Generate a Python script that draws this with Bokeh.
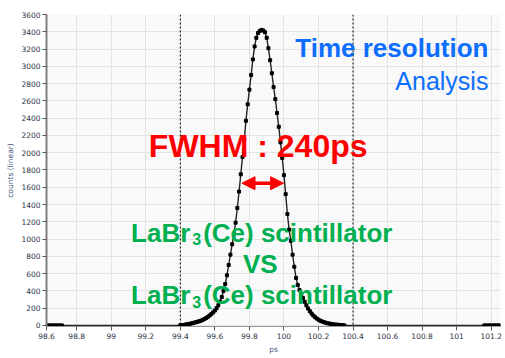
import numpy as np
from bokeh.plotting import figure
from bokeh.models import Span, Label, Arrow, NormalHead, FixedTicker, ColumnDataSource, Range1d
from bokeh.embed import file_html
from bokeh.resources import INLINE

# ---------------- data ----------------
BIN = 0.01
peak_start = 99.40
peak_counts = [
    2, 4, 6, 10, 14, 18, 22, 27, 32, 38,
    43, 49, 56, 65, 75, 87, 101, 116, 133, 152,
    173, 200, 234, 276, 330, 400, 480, 580, 700, 820,
    940, 1060, 1190, 1360, 1550, 1750, 1950, 2150, 2370, 2560,
    2730, 2900, 3080, 3230, 3330, 3385, 3410, 3422, 3415, 3395,
    3330, 3210, 3070, 2920, 2760, 2620, 2460, 2300, 2120, 1940,
    1740, 1520, 1290, 1110, 980, 820, 680, 550, 470, 410,
    360, 318, 274, 233, 196, 165, 138, 115, 96, 80,
    67, 56, 47, 39, 33, 27, 23, 19, 15, 12,
    10, 8, 6, 4, 2, 1,
]
left_base_start, left_base_n = 98.625, 10     # zero-count bins at the left edge
right_base_start, right_base_n = 101.160, 10  # zero-count bins at the right edge

x_ticks = [98.6, 98.8, 99.0, 99.2, 99.4, 99.6, 99.8, 100.0, 100.2, 100.4, 100.6, 100.8, 101.0, 101.2]
x_tick_labels = ["98.6", "98.8", "99", "99.2", "99.4", "99.6", "99.8", "100", "100.2", "100.4",
                 "100.6", "100.8", "101", "101.2"]
y_ticks = list(range(0, 3601, 200))
marker_lines = [99.4, 100.4]
fwhm_left, fwhm_right, half_max = 99.757, 99.998, 1647

# ---------------- build series ----------------
xl = np.round(left_base_start + BIN * np.arange(left_base_n), 3)
xp = np.round(peak_start + BIN * np.arange(len(peak_counts)), 3)
xr = np.round(right_base_start + BIN * np.arange(right_base_n), 3)
xs = np.concatenate([xl, xp, xr])
ys = np.concatenate([np.zeros(left_base_n), np.array(peak_counts, float), np.zeros(right_base_n)])
src = ColumnDataSource(dict(x=xs, y=ys))

X0, X1 = 98.625, 101.254
p = figure(width=503, height=356, x_range=Range1d(X0, X1), y_range=Range1d(-12, 3600),
           output_backend="svg", toolbar_location=None,
           min_border_left=46, min_border_right=3, min_border_top=14, min_border_bottom=25)
p.outline_line_color = None
p.background_fill_color = "#f9f9f9"
p.border_fill_color = "white"

tick_pos = [X0] + x_ticks[1:]
p.xaxis.ticker = FixedTicker(ticks=tick_pos)
p.xaxis.major_label_overrides = {t: lab for t, lab in zip(tick_pos, x_tick_labels)}
p.yaxis.ticker = FixedTicker(ticks=y_ticks)
p.xgrid.ticker = FixedTicker(ticks=x_ticks[1:])
p.ygrid.ticker = FixedTicker(ticks=y_ticks)
p.grid.grid_line_color = "#e3e3e3"
p.grid.grid_line_width = 1

for ax in (p.xaxis, p.yaxis):
    ax.major_label_text_font = "DejaVu Sans"
    ax.major_label_text_font_size = "7.5px"
    ax.major_label_text_color = "#2b3245"
    ax.axis_label_text_font = "DejaVu Sans"
    ax.axis_label_text_font_size = "7.5px"
    ax.axis_label_text_font_style = "normal"
    ax.axis_label_text_color = "#3d5078"
    ax.major_tick_in = 0
    ax.major_tick_out = 4
    ax.minor_tick_line_color = None
    ax.major_tick_line_color = "#555555"
    ax.major_label_standoff = 2
    ax.axis_label_standoff = 3
p.yaxis.axis_line_color = "#808080"
p.yaxis.axis_line_width = 2
p.xaxis.axis_line_color = "#999999"
p.xaxis.axis_label = "ps"
p.yaxis.axis_label = "counts (linear)"

for loc in marker_lines:
    p.add_layout(Span(location=loc, dimension="height", line_color="black",
                      line_dash="2 2", line_width=1))

p.line("x", "y", source=src, line_color="#222222", line_width=1.4)
p.scatter("x", "y", source=src, marker="square", size=3, color="black")

arrow_red = "#ff0000"
p.add_layout(Arrow(start=NormalHead(size=13, fill_color=arrow_red, line_color=arrow_red),
                   end=NormalHead(size=13, fill_color=arrow_red, line_color=arrow_red),
                   x_start=fwhm_left, y_start=half_max, x_end=fwhm_right, y_end=half_max,
                   line_color=arrow_red, line_width=3.5))

blue = "#0d6efd"
green = "#00b050"
FONT = "Liberation Sans"

def lab(x, y, text, size, color, bold=True, align="left"):
    p.add_layout(Label(x=x, y=y, text=text, text_font=FONT, text_font_size=size,
                       text_font_style="bold" if bold else "normal", text_color=color,
                       text_align=align, text_baseline="alphabetic"))

lab(101.184, 3210, "Time resolution", "26px", blue, True, "right")
lab(101.184, 2831, "Analysis", "25px", blue, False, "right")
lab(99.851, 2075, "FWHM : 240ps", "32px", arrow_red, True, "center")
for base in (1071, 352):
    lab(99.115, base, "LaBr", "26px", green)
    lab(99.469, base - 75, "3", "16px", green)
    lab(99.532, base, "(Ce) scintillator", "26px", green)
lab(99.863, 712, "VS", "26px", green, True, "center")

open("out.html", "w").write(file_html(p, INLINE))
